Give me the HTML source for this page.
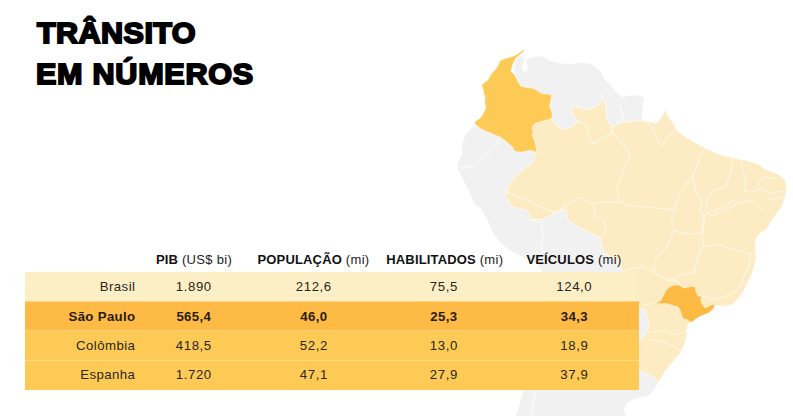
<!DOCTYPE html>
<html><head><meta charset="utf-8">
<style>
html,body{margin:0;padding:0;background:#fff;}
body{width:793px;height:416px;position:relative;overflow:hidden;font-family:"Liberation Sans",sans-serif;color:#1a1a1a;}
#map{position:absolute;left:0;top:0;}
.title{position:absolute;font-weight:bold;font-size:29.7px;line-height:30px;color:#000;white-space:nowrap;-webkit-text-stroke:1.9px #000;transform-origin:0 0;transform:scaleX(1.03)}
#t1{left:36.5px;top:17.6px;letter-spacing:0.4px}
#t2{left:36.1px;top:58.7px;letter-spacing:0.7px}
.row{position:absolute;left:25px;width:613.5px;height:29.4px}
#r1{top:272px;background:#FDEFC5;}
#r2{top:301.3px;background:#FDBA45;}
#r3{top:330.7px;background:#FDCB55;}
#r4{top:360px;background:#FDCB55;height:29.5px}
.c{position:absolute;font-size:13.2px;line-height:16px;white-space:nowrap;transform:translateX(-50%);letter-spacing:0.6px;margin-left:0.3px;color:#2a2522}
.n{position:absolute;font-size:13.2px;line-height:16px;white-space:nowrap;right:657.6px;letter-spacing:0.45px;color:#2a2522}
.h{position:absolute;font-size:13px;line-height:16px;white-space:nowrap;transform:translateX(-50%);top:252.3px;letter-spacing:0.3px;color:#222}
b{font-weight:bold;letter-spacing:0.15px;color:#111}
.c b,.n b{letter-spacing:0.35px;color:#2a1a10}
</style></head><body>
<svg id="map" width="793" height="416" viewBox="0 0 793 416">
<g stroke-linejoin="round" stroke-linecap="round">
<path fill="#F1F1F2" d="M474,126.5 L467.8,131.6 L464,137.9 L461.5,146.7 L462.7,154.3 L457.7,163 L457.7,170 L461.5,176 L465,183 L470,194 L475.4,205 L480.4,208 L488,220.5 L493,233 L500.6,243 L510.7,250.8 L523,257 L536,263.4 L541,270 L541,300 L650,300 L650,200 L560,140 L500,130 Z"/>
<path fill="#F1F1F2" d="M519,55.5 L524,57 L528.5,58.8 L534.3,56.6 L540,56.2 L545.8,58 L551.6,61.6 L558.8,63.1 L565,64.5 L571.3,64 L581.4,62.8 L591.5,64 L596.6,67.9 L601.6,72.9 L605,80 L610,85 L616,92 L622,97.5 L627,96 L636.4,95 L644,97.6 L642.7,107.7 L641.4,119 L641,125 L600,130 L560,132 L545,122 L530,100 L520,85 L514,70 L516,60 Z"/>
<path fill="#F1F1F2" d="M523.8,390 L515.9,416 L626,416 L623.7,409.5 L627,402.7 L636,398 L647.6,395.9 L654,389.7 L657.8,383.4 L660,370 L660,300 L600,300 L600,389 Z"/>
<ellipse cx="525" cy="67.2" rx="2.7" ry="4.6" fill="#fff"/>
<path d="M523.5,58 L526.5,58.5 L526,64 L524,64 Z" fill="#fff"/>
<path fill="#FDECC3" stroke="#fff" stroke-width="0.7" d="M535.7,152.7 L536.4,149.8 L535.7,144.8 L534.3,139.7 L532.1,135.4 L533.5,131.1 L532.1,128.2 L534.3,123.9 L538.6,122.4 L545.8,120.3 L551.6,118.8 L556.8,125.4 L563,129 L570.7,127.9 L578.3,121.6 L573,115 L570.7,107.7 L578.3,106.4 L587,110 L596,106.4 L601,102.6 L603.5,98.3 L606,105 L606,115 L608.6,122.8 L613.6,126.6 L621,122.8 L631,121.6 L638.9,120 L646.5,121.6 L656.6,122.8 L661.6,116.5 L665.4,109.5 L669,117.8 L674,124 L676.8,130.4 L681.8,134.2 L687.6,137.9 L697.3,144 L707,148.8 L716.8,153.7 L726.5,156.1 L736.3,158.6 L746,160.3 L750.9,161.9 L757.8,163.9 L766.5,169.7 L778,174 L783.7,178.3 L786.6,184 L786.4,190 L785.2,197 L782.3,205.7 L778,211.5 L772.2,220 L766.5,230 L760.7,232.6 L756.2,237.6 L755.2,247.7 L756.2,257.8 L754.4,266.7 L751.9,274.2 L748,281.8 L744.3,289.4 L740.5,295.7 L735.5,302 L730.4,305.3 L722.8,306.3 L714.4,305.5 L707.1,313.7 L697.3,317.3 L692.2,321.7 L688,324 L686.5,330.7 L687.3,333 L685.6,341.7 L680.5,353 L673,362 L665.4,370.8 L660.3,379.6 L657.8,383.4 L655,378 L640,370.8 L630,366 L630,345 L640,340.5 L645,335.4 L649,325.3 L645,310 L638,308 L630,300 L622,271.5 L620.4,264 L613.2,258.2 L603.1,252.5 L601,238.8 L598.5,237 L588.4,232 L578.3,227 L568.2,220.7 L565.7,209.3 L555.6,213 L543,219.4 L530.3,219.4 L527.8,210.6 L511.4,206.8 L505,194.2 L507.6,187.9 L513.9,177.8 L522.7,170.2 L532.8,162.6 Z"/>
<path fill="#FCCA55" stroke="#fff" stroke-width="0.5" d="M525.3,49.4 L522.7,52.3 L518.4,55.9 L515.5,58.8 L513.3,63.1 L511.9,67.4 L510.9,71 L514,73.9 L516.2,77.5 L518.4,82.6 L521.3,86.2 L527,87.6 L532.8,88.3 L537.2,90.5 L541.5,93.4 L547.3,94.1 L551.6,94.5 L550.9,100.8 L549.4,106.5 L551.6,110.9 L552.3,115.2 L551.6,118.8 L545.8,120.3 L538.6,122.4 L534.3,123.9 L532.1,128.2 L533.5,131.1 L532.1,135.4 L534.3,139.7 L535.7,144.8 L536.4,149.8 L535.7,152.7 L532.8,150.6 L528.5,150.6 L522.7,152 L516.9,152 L514.1,150.6 L512.6,146.9 L508.3,143.3 L504,139.7 L499.6,136.8 L493.9,134.7 L489.5,132.5 L485.2,131.1 L480.9,128.9 L477.3,125.9 L474.4,123.1 L475.8,120.7 L479.4,118.8 L482.3,115.2 L484.5,110.9 L485.9,106.5 L484.5,102.2 L485.2,97.9 L484.5,95 L483.8,94.8 L483,89.1 L481.6,84.7 L484.5,82.6 L488.1,79.7 L490.3,75.4 L492.4,72.5 L496,68.9 L498.5,64.5 L499.6,60.9 L503.2,59.5 L506.8,58 L511.2,57 L515.5,55.2 L519.8,52.3 L523.4,49.8 Z"/>
<path fill="#FCB944" d="M656,303.3 L660.8,301.1 L663,297.3 L666.2,290.8 L668.4,288.1 L673.3,285.6 L678.1,285.2 L681.4,286.7 L683.5,288.4 L687.9,287.6 L693.3,286.7 L694.9,287.6 L695.4,290.8 L696.5,294.1 L698.1,296.8 L701.4,296.2 L700.3,299.5 L700.8,302.2 L703,306 L705.2,308.3 L708.4,307 L711.7,304.9 L713.8,304.7 L714.4,306.5 L712.2,309.8 L709,312.5 L704.1,314.6 L699.8,316.2 L695.4,318.9 L692.2,321.7 L688.9,321.1 L687.9,319.5 L683.5,318.4 L681.9,315.7 L681.4,312.5 L679.8,308.7 L677.6,306 L673.3,305.4 L670.6,304.3 L666.2,303.3 L660.8,303.3 Z"/>
<path fill="none" stroke="#FFF7E6" stroke-width="1.05" d="M630.4,153.4 L617,186.2 L618.3,200.8 L629.2,205.7 L673,209.4"/>
<path fill="none" stroke="#FFF7E6" stroke-width="1.05" d="M673,209.4 L680.3,193.5 L687.6,181.4 L692.5,176.5 L697.3,164.3 L702.2,152.2 L707.1,147.3"/>
<path fill="none" stroke="#FFF7E6" stroke-width="1.05" d="M692.5,176.5 L697.3,196 L702.2,200.8 L699.8,210.6 L704.6,215.4 L703.4,232.5"/>
<path fill="none" stroke="#FFF7E6" stroke-width="1.05" d="M731.4,158.3 L732.6,166.8 L729,176.5 L726.6,186.2 L714.4,189.9 L707.1,198.4 L705.9,210.6 L711.9,216.7 L716.8,213 L729,208.1 L736.3,204.5 L746,200.8 L755.8,202.1 L763.1,210.6"/>
<path fill="none" stroke="#FFF7E6" stroke-width="1.05" d="M741.2,160.7 L743.6,171.6 L746,181.4 L744.8,191.1 L750.9,192.3 L760.6,188.7 L758.2,181.4 L765.5,176.5 L775.2,178.9"/>
<path fill="none" stroke="#FFF7E6" stroke-width="1.05" d="M760.6,188.7 L770.4,193.5 L782.5,191.1"/>
<path fill="none" stroke="#FFF7E6" stroke-width="1.05" d="M767.9,199.6 L785,197.2"/>
<path fill="none" stroke="#FFF7E6" stroke-width="1.05" d="M578.3,121.6 L587.1,125.4 L588.4,135.5 L593.4,144.3 L601,139.2 L606.1,135.5 L612.4,132.9 L611.1,126.6 L613.6,126.6"/>
<path fill="none" stroke="#FFF7E6" stroke-width="1.05" d="M612.4,132.9 L626.3,148.1 L630.3,153.1"/>
<path fill="none" stroke="#FFF7E6" stroke-width="1.05" d="M646.5,121.6 L654,130.4 L657.8,140.5 L661.6,145.6 L666.7,138 L671.7,132.9 L676.8,130.4"/>
<path fill="none" stroke="#FFF7E6" stroke-width="1.05" d="M505.1,191.7 L527.8,200.5 L542.9,208.1 L555.6,213.1"/>
<path fill="none" stroke="#FFF7E6" stroke-width="1.05" d="M555.6,213.1 L568.2,204.3 L578.3,198 L584.6,198 L589.6,203 L593.4,204.3 L596,218.2 L603.5,219.4 L604.8,225.8 L606.1,233.3 L601,237.1"/>
<path fill="none" stroke="#FFF7E6" stroke-width="1.05" d="M593.4,203 L618.7,201.8"/>
<path fill="none" stroke="#FFF7E6" stroke-width="1.05" d="M676.3,208.8 L671.3,220.2 L673.8,230.3 L670,240.4 L666.2,248 L656.1,258.1 L653.6,265.7 L656.1,273.2 L668.8,280.8 L676.3,280.8"/>
<path fill="none" stroke="#FFF7E6" stroke-width="1.05" d="M673.8,230.3 L686.4,234.1 L701.6,232.8 L704.1,246.7"/>
<path fill="none" stroke="#FFF7E6" stroke-width="1.05" d="M704.1,246.7 L699.1,250.5 L696.5,263.1 L694,272 L678.9,275.8 L668.8,280.8"/>
<path fill="none" stroke="#FFF7E6" stroke-width="1.05" d="M704.1,246.7 L716.7,244.2 L734.4,249.2 L749.6,254.3 L754.6,250.5"/>
<path fill="none" stroke="#FFF7E6" stroke-width="1.05" d="M704.1,215.2 L701.6,232.8"/>
<path fill="none" stroke="#FFF7E6" stroke-width="1.05" d="M704.1,215.2 L714.2,210.1 L724.3,207.6 L734.4,200"/>
<path fill="none" stroke="#FFF7E6" stroke-width="1.05" d="M750.8,253.5 L749.1,266.2 L744.5,275 L741.5,283.8 L736.9,290.9 L726.8,295.5 L714.2,299.7 L701.6,296"/>
<path fill="none" stroke="#FFF7E6" stroke-width="1.05" d="M676.3,280.8 L681.4,285.9"/>
<path fill="none" stroke="#FFF7E6" stroke-width="1.05" d="M656.1,273.2 L643.5,266.9 L630.9,268.2 L623.3,271.2"/>
<path fill="none" stroke="#FFF7E6" stroke-width="1.05" d="M648.8,332.1 L664.2,330.7 L672.5,334.9 L686.5,332.1"/>
<path fill="none" stroke="#FFF7E6" stroke-width="1.05" d="M647.4,339.1 L664.2,341.8 L675.3,347.4 L682.3,353"/>
<path fill="none" stroke="#FFF7E6" stroke-width="1.05" d="M644.6,305.6 L655.8,302.8"/>
<path fill="none" stroke="#fff" stroke-width="0.9" d="M536,391 L531.8,409.5 L534,416"/>
<path fill="none" stroke="#fff" stroke-width="0.9" d="M460.2,168.2 L472.8,165.7 L482.9,158.1 L498.1,142.9 L499.3,139.1"/>
<path fill="none" stroke="#fff" stroke-width="0.9" d="M530.3,219.4 L540.4,223.2 L542.9,233.3 L541.7,246 L542.9,255.1"/>
<path fill="none" stroke="#fff" stroke-width="0.9" d="M603.5,98.8 L601,95.1 L604.8,90"/>
<path fill="none" stroke="#fff" stroke-width="0.9" d="M619.9,105.2 L623.7,117.8 L618.7,122.8"/>
</g></svg>
<div class="title" id="t1">TRÂNSITO</div>
<div class="title" id="t2">EM NÚMEROS</div>
<div class="row" id="r1"></div><div class="row" id="r2"></div><div class="row" id="r3"></div><div class="row" id="r4"></div>
<div style="position:absolute;left:25px;width:613.5px;top:300.8px;height:1px;background:rgba(255,255,255,0.35)"></div>
<div style="position:absolute;left:25px;width:613.5px;top:330.4px;height:1px;background:rgba(255,255,255,0.3)"></div>
<div style="position:absolute;left:25px;width:613.5px;top:359.8px;height:1px;background:rgba(255,255,255,0.3)"></div>
<div class="h" style="left:194px"><b>PIB</b> (US$ bi)</div>
<div class="h" style="left:313.5px"><b>POPULAÇÃO</b> (mi)</div>
<div class="h" style="left:444.8px"><b>HABILITADOS</b> (mi)</div>
<div class="h" style="left:574px"><b>VEÍCULOS</b> (mi)</div>
<div class="n" style="top:278.5px">Brasil</div>
<div class="n" style="top:308.9px"><b>São Paulo</b></div>
<div class="n" style="top:338.1px">Colômbia</div>
<div class="n" style="top:367.4px">Espanha</div>
<div class="c" style="left:193.5px;top:278.5px">1.890</div>
<div class="c" style="left:313.5px;top:278.5px">212,6</div>
<div class="c" style="left:443.5px;top:278.5px">75,5</div>
<div class="c" style="left:574px;top:278.5px">124,0</div>
<div class="c" style="left:193.5px;top:308.9px"><b>565,4</b></div>
<div class="c" style="left:313.5px;top:308.9px"><b>46,0</b></div>
<div class="c" style="left:443.5px;top:308.9px"><b>25,3</b></div>
<div class="c" style="left:574px;top:308.9px"><b>34,3</b></div>
<div class="c" style="left:193.5px;top:338.1px">418,5</div>
<div class="c" style="left:313.5px;top:338.1px">52,2</div>
<div class="c" style="left:443.5px;top:338.1px">13,0</div>
<div class="c" style="left:574px;top:338.1px">18,9</div>
<div class="c" style="left:193.5px;top:367.4px">1.720</div>
<div class="c" style="left:313.5px;top:367.4px">47,1</div>
<div class="c" style="left:443.5px;top:367.4px">27,9</div>
<div class="c" style="left:574px;top:367.4px">37,9</div>
</body></html>
